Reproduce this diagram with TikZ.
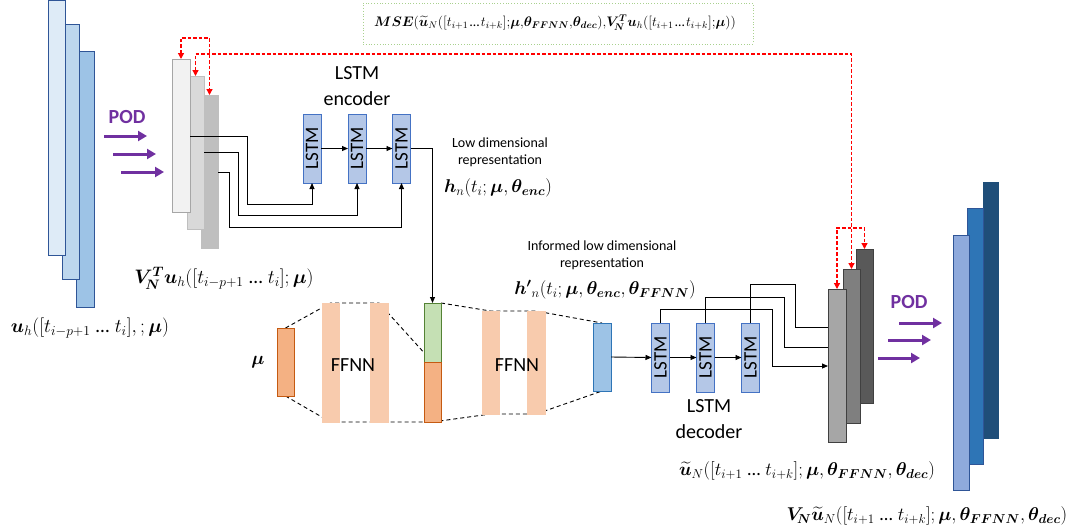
\RequirePackage{fix-cm}
\documentclass[tikz,border=0pt]{standalone}
\usepackage{fontspec}
\setmainfont{Carlito}
\usepackage{amsmath}
\usepackage{bm}
\usetikzlibrary{arrows.meta}
\definecolor{lbA}{HTML}{DEEBF7}
\definecolor{lbB}{HTML}{BDD7EE}
\definecolor{lbC}{HTML}{9DC3E6}
\definecolor{lbD}{HTML}{2F5597}
\definecolor{gA}{HTML}{F2F2F2}
\definecolor{gB}{HTML}{D9D9D9}
\definecolor{gC}{HTML}{BFBFBF}
\definecolor{gD}{HTML}{A6A6A6}
\definecolor{lstmF}{HTML}{B4C7E7}
\definecolor{lstmD}{HTML}{4472C4}
\definecolor{orF}{HTML}{F4B183}
\definecolor{orD}{HTML}{C55A11}
\definecolor{ffF}{HTML}{F8CBAD}
\definecolor{grF}{HTML}{C5E0B4}
\definecolor{grD}{HTML}{548235}
\definecolor{bbD}{HTML}{2E75B6}
\definecolor{dkA}{HTML}{A6A6A6}
\definecolor{dkB}{HTML}{7F7F7F}
\definecolor{dkC}{HTML}{595959}
\definecolor{dkD}{HTML}{404040}
\definecolor{rbA}{HTML}{8FAADC}
\definecolor{rbB}{HTML}{2E75B6}
\definecolor{rbC}{HTML}{1F4E79}
\definecolor{podP}{HTML}{7030A0}
\definecolor{mseG}{HTML}{A9D18E}
\newcommand{\dts}{\mskip5mu\text{…}\mskip5mu}
\newcommand{\tdts}{\mskip2mu\text{…}\mskip2mu}
\begin{document}
\begin{tikzpicture}[x=1pt,y=-1pt,
  bar/.style={draw, line width=1pt, inner sep=0pt, outer sep=0pt, anchor=north west},
  lstm/.style={draw=lstmD, fill=lstmF, line width=1pt, inner sep=0pt, outer sep=0pt,
    minimum width=18pt, minimum height=69pt, font=\fontsize{19}{19}\selectfont},
  arr/.style={line width=0.9pt, -{Triangle[length=6pt,width=5pt]}},
  ln/.style={line width=0.9pt},
  rarr/.style={red, line width=1.3pt, dash pattern=on 3.5pt off 2pt,
    {Triangle[length=6pt,width=6pt]}-{Triangle[length=6pt,width=6pt]}},
  podarr/.style={podP, line width=3pt, -{Triangle[length=9pt,width=10pt]}},
  podtxt/.style={text=podP, font=\fontsize{20}{24}\selectfont\bfseries},
  dsh/.style={line width=0.9pt, dash pattern=on 4pt off 3pt},
  mlbl/.style={font=\fontsize{18.5}{21}\selectfont, inner sep=0pt},
  mlblb/.style={font=\fontsize{19.5}{22}\selectfont, inner sep=0pt},
  mselbl/.style={font=\fontsize{13.8}{16}\selectfont, inner sep=0pt},
  bigtxt/.style={font=\fontsize{20}{26}\selectfont, align=center, inner sep=0pt},
  smtxt/.style={font=\fontsize{14}{17}\selectfont, align=center, inner sep=0pt}
]
\path[use as bounding box] (0,0) rectangle (1073,531);

% ---- left blue bars (back to front)
\node[bar, fill=lbC, draw=lbD, minimum width=18pt, minimum height=256pt] (lb3) at (76,51) {};
\node[bar, fill=lbB, draw=lbD, minimum width=17pt, minimum height=255pt] (lb2) at (62,24) {};
\node[bar, fill=lbA, draw=lbD, minimum width=17pt, minimum height=255pt] (lb1) at (48,0) {};
\node[mlblb] (luh) at (90,328) {$\bm{u}_h([t_{i-p+1}\dts t_i],;\bm{\mu})$};

% ---- left POD
\node[podtxt] (pod1) at (127,117) {POD};
\draw[podarr] (104,136) -- (147,136);
\draw[podarr] (113,154) -- (156,154);
\draw[podarr] (121,172) -- (164,172);

% ---- encoder gray bars
\node[bar, fill=gC, draw=gC, minimum width=17pt, minimum height=153pt] (g3) at (201,95) {};
\node[bar, fill=gB, draw=gC, minimum width=17pt, minimum height=153pt] (g2) at (187,76) {};
\node[bar, fill=gA, draw=gD, minimum width=18pt, minimum height=153pt] (g1) at (172,59) {};
\node[mlblb] (vlbl) at (224,278) {$\bm{V}_{\!\bm{N}}^{\bm{T}}\bm{u}_h([t_{i-p+1}\dts t_i];\bm{\mu})$};

% ---- encoder LSTMs
\node[bigtxt] (enct) at (357,86) {LSTM\\encoder};
\node[lstm] (e1) at (312,148.5) {\rotatebox{90}{LSTM}};
\node[lstm] (e2) at (357,148.5) {\rotatebox{90}{LSTM}};
\node[lstm] (e3) at (401.5,148.5) {\rotatebox{90}{LSTM}};
\draw[arr] (e1.east) -- (e2.west);
\draw[arr] (e2.east) -- (e3.west);
\draw[arr] ([yshift=-77pt]g1.north east) -- (247,136) -- (247,204) -| (e1.south);
\draw[arr] ([yshift=-76pt]g2.north east) -- (238,152) -- (238,215) -| (e2.south);
\draw[arr] ([yshift=-77pt]g3.north east) -- (229,172) -- (229,227) -| (e3.south);

% ---- labels middle
\node[smtxt] (lowd) at (500,152) {Low dimensional\\representation};
\node[mlbl] (hn) at (498,188) {$\bm{h}_n(t_i;\bm{\mu},\bm{\theta}_{\bm{enc}})$};
\node[smtxt] (inf) at (602,255) {Informed low dimensional\\representation};
\node[mlbl] (hpn) at (605,290) {$\bm{h'}{}_n(t_i;\bm{\mu},\bm{\theta}_{\bm{enc}},\bm{\theta}_{\bm{FFNN}})$};

% ---- FFNN part
\draw[dsh] (285.5,328) -- (330.5,303) -- (379,303) -- (432.5,362);
\draw[dsh] (285.5,396) -- (330.5,422) -- (432.5,422);
\draw[dsh] (441,303) -- (490.5,311) -- (536,311) -- (602,323);
\draw[dsh] (432.5,422) -- (490.5,414) -- (536,414) -- (602,391);
\node[bar, fill=orF, draw=orD, minimum width=17pt, minimum height=68pt] (mu) at (277,328) {};
\node[mlbl] (mul) at (258,362) {$\bm{\mu}$};
\node[bar, fill=ffF, draw=ffF, minimum width=17pt, minimum height=119pt] (f1) at (322,303) {};
\node[bar, fill=ffF, draw=ffF, minimum width=18pt, minimum height=119pt] (f2) at (370,303) {};
\node[bigtxt] (ff1) at (353,365) {FFNN};
\node[bar, fill=grF, draw=grD, minimum width=17pt, minimum height=59pt] (gr) at (424,303) {};
\node[bar, fill=orF, draw=orD, minimum width=17pt, minimum height=60pt] (ob) at (424,362) {};
\node[bar, fill=ffF, draw=ffF, minimum width=17pt, minimum height=103pt] (f3) at (482,311) {};
\node[bar, fill=ffF, draw=ffF, minimum width=18pt, minimum height=103pt] (f4) at (527,311) {};
\node[bigtxt] (ff2) at (517,365) {FFNN};
\node[bar, fill=lbC, draw=bbD, minimum width=18pt, minimum height=68pt] (bb) at (593,323) {};
\draw[arr] (e3.east) -| (gr.north);

% ---- decoder
\node[lstm] (d1) at (660.5,357.5) {\rotatebox{90}{LSTM}};
\node[lstm] (d2) at (705.5,357.5) {\rotatebox{90}{LSTM}};
\node[lstm] (d3) at (750.5,357.5) {\rotatebox{90}{LSTM}};
\node[bigtxt] (dect) at (709,419) {LSTM\\decoder};
\draw[arr] (bb.east) -- (d1.west);
\draw[arr] (d1.east) -- (d2.west);
\draw[arr] (d2.east) -- (d3.west);

% decoder gray bars
\node[bar, fill=dkC, draw=dkD, minimum width=17pt, minimum height=154pt] (h3) at (856,249) {};
\node[bar, fill=dkB, draw=dkD, minimum width=17pt, minimum height=154pt] (h2) at (843,269) {};
\node[bar, fill=dkA, draw=dkD, minimum width=18pt, minimum height=153pt] (h1) at (828,289) {};
\draw[arr] (d1.north) -- (660.5,309) -- (772,309) |- ([yshift=-77pt]h1.north west);
\draw[ln] (d2.north) -- (705.5,297) -- (784,297) |- ([yshift=-58pt]h1.north west);
\draw[ln] (d3.north) -- (750.5,284) -- (795,284) |- ([yshift=-38pt]h1.north west);
\node[mlbl] (utl) at (807,471) {$\widetilde{\bm{u}}_N([t_{i+1}\dts t_{i+k}];\bm{\mu},\bm{\theta}_{\bm{FFNN}},\bm{\theta}_{\bm{dec}})$};

% ---- right POD
\node[podtxt] (pod2) at (909,302) {POD};
\draw[podarr] (899,323) -- (942,323);
\draw[podarr] (888,340) -- (931,340);
\draw[podarr] (878,358) -- (920,358);

% ---- right blue bars
\node[bar, fill=rbC, draw=rbC, minimum width=15pt, minimum height=256pt] (r3) at (983,182) {};
\node[bar, fill=rbB, draw=lbD, minimum width=16pt, minimum height=256pt] (r2) at (967,208) {};
\node[bar, fill=rbA, draw=lbD, minimum width=16pt, minimum height=255pt] (r1) at (953,235) {};
\node[mlbl] (vut) at (927,516) {$\bm{V}_{\!\bm{N}}\widetilde{\bm{u}}_N([t_{i+1}\dts t_{i+k}];\bm{\mu},\bm{\theta}_{\bm{FFNN}},\bm{\theta}_{\bm{dec}})$};

% ---- MSE box
\node[draw=mseG, dotted, line width=0.8pt, minimum width=390pt, minimum height=41pt, inner sep=0pt] (mse) at (558,23.5) {};
\node[mselbl] (mset) at (555,23) {$\bm{MSE}(\widetilde{\bm{u}}_N([t_{i+1}\tdts t_{i+k}]{;}\bm{\mu}{,}\bm{\theta}_{\bm{FFNN}}{,}\bm{\theta}_{\bm{dec}}){,}\bm{V}_{\!\bm{N}}^{\bm{T}}\bm{u}_h([t_{i+1}\tdts t_{i+k}]{;}\bm{\mu}))$};

% ---- red dashed arrows
\draw[rarr] (g1.north) -- ++(0,-21) -| (g3.north);
\draw[rarr] (g2.north) -- ++(0,-22) -| (h2.north);
\draw[rarr] (h1.north) -- ++(0,-61) -| (h3.north);
\end{tikzpicture}
\end{document}
